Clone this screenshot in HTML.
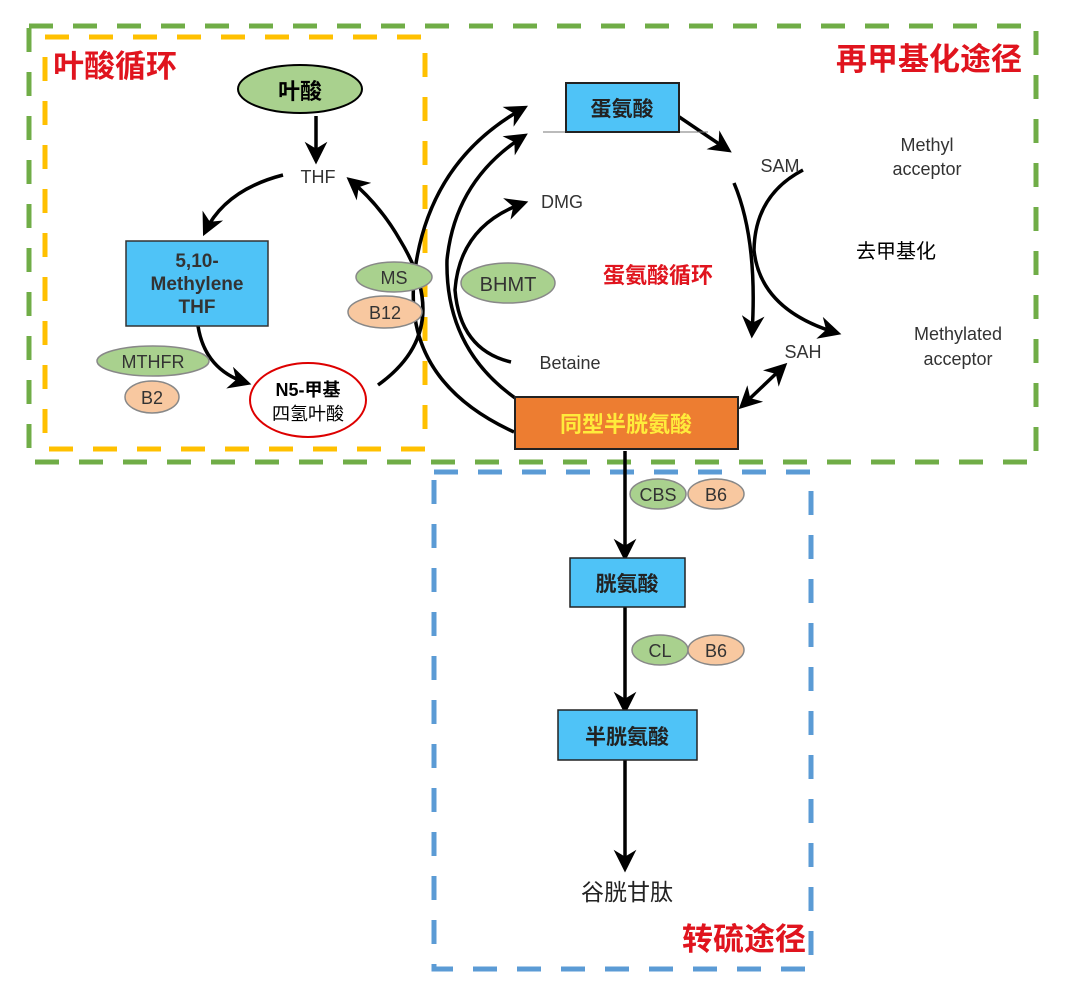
<!DOCTYPE html>
<html><head><meta charset="utf-8">
<style>
html,body{margin:0;padding:0;background:#fff;}
svg{display:block;font-family:"Liberation Sans","Noto Sans CJK SC",sans-serif;}
</style></head>
<body>
<svg width="1080" height="998" viewBox="0 0 1080 998" xmlns="http://www.w3.org/2000/svg">
<defs>
<marker id="ah" viewBox="0 0 10 10" refX="8" refY="5" markerWidth="7" markerHeight="6.5" orient="auto-start-reverse" markerUnits="strokeWidth">
<path d="M0,0 L10,5 L0,10 L3,5 Z" fill="#000"/>
</marker>
</defs>
<rect x="29" y="26" width="1007" height="436" fill="none" stroke="#70ad47" stroke-width="5" stroke-dasharray="24,20"/>
<rect x="45" y="37" width="380" height="412" fill="none" stroke="#ffc000" stroke-width="5" stroke-dasharray="24,20"/>
<rect x="434" y="472" width="377" height="497" fill="none" stroke="#5b9bd5" stroke-width="5" stroke-dasharray="24,20"/>

<text x="53" y="77" font-size="31" font-weight="bold" fill="#e0141e">叶酸循环</text>
<text x="1022" y="70" font-size="31" font-weight="bold" fill="#e0141e" text-anchor="end">再甲基化途径</text>
<text x="806" y="950" font-size="31" font-weight="bold" fill="#e0141e" text-anchor="end">转硫途径</text>

<g stroke="#000" stroke-width="3.5" fill="none">
<line x1="316" y1="116" x2="316" y2="160" marker-end="url(#ah)"/>
<path d="M283,175 Q225,190 205,232" marker-end="url(#ah)"/>
<path d="M198,326 Q205,370 247,383" marker-end="url(#ah)"/>
<path d="M378,385 Q455,330 400,240 Q380,205 350,180" marker-end="url(#ah)"/>
<path d="M514,432 Q400,380 415,270 Q430,160 524,108" marker-end="url(#ah)"/>
<path d="M518,400 Q445,350 447,260 Q455,180 524,136" marker-end="url(#ah)"/>
<path d="M511,362 Q460,350 455,290 Q460,225 524,203" marker-end="url(#ah)"/>
<line x1="738" y1="108" x2="800" y2="150" marker-end="url(#ah)" transform="translate(-72,0)"/>
<path d="M734,183 Q758,240 752,334" marker-end="url(#ah)"/>
<path d="M803,170 Q755,195 754,250 Q760,310 837,333" marker-end="url(#ah)"/>
<line x1="784" y1="366" x2="742" y2="406" marker-start="url(#ah)" marker-end="url(#ah)"/>
<line x1="625" y1="451" x2="625" y2="557" marker-end="url(#ah)"/>
<line x1="625" y1="607" x2="625" y2="710" marker-end="url(#ah)"/>
<line x1="625" y1="760" x2="625" y2="868" marker-end="url(#ah)"/>
</g>
<line x1="543" y1="132" x2="708" y2="132" stroke="#777" stroke-width="1"/>

<ellipse cx="300" cy="89" rx="62" ry="24" fill="#a9d18e" stroke="#000" stroke-width="2"/>
<text x="300" y="99" font-size="22" font-weight="bold" text-anchor="middle">叶酸</text>
<text x="318" y="183" font-size="18" fill="#333" text-anchor="middle">THF</text>
<rect x="126" y="241" width="142" height="85" fill="#4fc3f7" stroke="#333" stroke-width="1.5"/>
<text x="197" y="267" font-size="19" font-weight="bold" fill="#333" text-anchor="middle">5,10-</text>
<text x="197" y="290" font-size="19" font-weight="bold" fill="#333" text-anchor="middle">Methylene</text>
<text x="197" y="313" font-size="19" font-weight="bold" fill="#333" text-anchor="middle">THF</text>
<ellipse cx="153" cy="361" rx="56" ry="15" fill="#a9d18e" stroke="#888" stroke-width="1.5"/>
<text x="153" y="368" font-size="18" fill="#333" text-anchor="middle">MTHFR</text>
<ellipse cx="152" cy="397" rx="27" ry="16" fill="#f8c8a0" stroke="#888" stroke-width="1.5"/>
<text x="152" y="404" font-size="18" fill="#333" text-anchor="middle">B2</text>
<ellipse cx="308" cy="400" rx="58" ry="37" fill="#fff" stroke="#d00" stroke-width="2"/>
<text x="308" y="396" font-size="18" font-weight="bold" text-anchor="middle">N5-甲基</text>
<text x="308" y="420" font-size="18" text-anchor="middle">四氢叶酸</text>
<ellipse cx="394" cy="277" rx="38" ry="15" fill="#a9d18e" stroke="#888" stroke-width="1.5"/>
<text x="394" y="284" font-size="18" fill="#333" text-anchor="middle">MS</text>
<ellipse cx="385" cy="312" rx="37" ry="16" fill="#f8c8a0" stroke="#888" stroke-width="1.5"/>
<text x="385" y="319" font-size="18" fill="#333" text-anchor="middle">B12</text>

<rect x="566" y="83" width="113" height="49" fill="#4fc3f7" stroke="#222" stroke-width="2"/>
<text x="622" y="116" font-size="21" font-weight="bold" fill="#222" text-anchor="middle">蛋氨酸</text>
<text x="780" y="172" font-size="18" fill="#333" text-anchor="middle">SAM</text>
<text x="927" y="151" font-size="18" fill="#333" text-anchor="middle">Methyl</text>
<text x="927" y="175" font-size="18" fill="#333" text-anchor="middle">acceptor</text>
<text x="562" y="208" font-size="18" fill="#333" text-anchor="middle">DMG</text>
<ellipse cx="508" cy="283" rx="47" ry="20" fill="#a9d18e" stroke="#888" stroke-width="1.5"/>
<text x="508" y="291" font-size="20" fill="#333" text-anchor="middle">BHMT</text>
<text x="658" y="283" font-size="22" font-weight="bold" fill="#e0141e" text-anchor="middle">蛋氨酸循环</text>
<text x="896" y="258" font-size="20" text-anchor="middle">去甲基化</text>
<text x="803" y="358" font-size="18" fill="#333" text-anchor="middle">SAH</text>
<text x="958" y="340" font-size="18" fill="#333" text-anchor="middle">Methylated</text>
<text x="958" y="365" font-size="18" fill="#333" text-anchor="middle">acceptor</text>
<text x="570" y="369" font-size="18" fill="#333" text-anchor="middle">Betaine</text>
<rect x="515" y="397" width="223" height="52" fill="#ed7d31" stroke="#222" stroke-width="2"/>
<text x="626" y="432" font-size="22" font-weight="bold" fill="#ffeb3b" text-anchor="middle">同型半胱氨酸</text>

<ellipse cx="658" cy="494" rx="28" ry="15" fill="#a9d18e" stroke="#888" stroke-width="1.5"/>
<text x="658" y="501" font-size="18" fill="#333" text-anchor="middle">CBS</text>
<ellipse cx="716" cy="494" rx="28" ry="15" fill="#f8c8a0" stroke="#888" stroke-width="1.5"/>
<text x="716" y="501" font-size="18" fill="#333" text-anchor="middle">B6</text>
<rect x="570" y="558" width="115" height="49" fill="#4fc3f7" stroke="#222" stroke-width="1.5"/>
<text x="627" y="591" font-size="21" font-weight="bold" fill="#222" text-anchor="middle">胱氨酸</text>
<ellipse cx="660" cy="650" rx="28" ry="15" fill="#a9d18e" stroke="#888" stroke-width="1.5"/>
<text x="660" y="657" font-size="18" fill="#333" text-anchor="middle">CL</text>
<ellipse cx="716" cy="650" rx="28" ry="15" fill="#f8c8a0" stroke="#888" stroke-width="1.5"/>
<text x="716" y="657" font-size="18" fill="#333" text-anchor="middle">B6</text>
<rect x="558" y="710" width="139" height="50" fill="#4fc3f7" stroke="#222" stroke-width="1.5"/>
<text x="627" y="744" font-size="21" font-weight="bold" fill="#222" text-anchor="middle">半胱氨酸</text>
<text x="627" y="900" font-size="23" fill="#222" text-anchor="middle">谷胱甘肽</text>
</svg>
</body></html>
